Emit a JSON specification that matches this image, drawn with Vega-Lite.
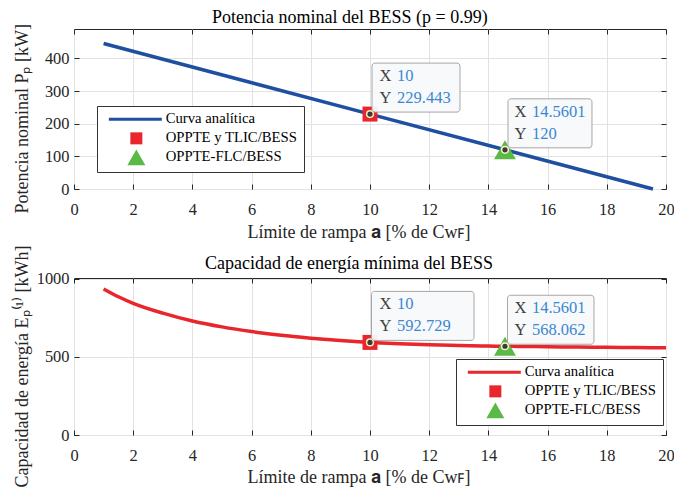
{
  "$schema": "https://vega.github.io/schema/vega-lite/v6.json",
  "background": "white",
  "padding": {"left": 12, "top": 8, "right": 5, "bottom": 0},
  "bounds": "flush",
  "spacing": 89,
  "datasets": {
    "lineTop": [{"x": 1, "y": 445.44}, {"x": 10, "y": 229.443}, {"x": 14.5601, "y": 120}, {"x": 19.56, "y": 0}],
    "ptsTop": [
      {"x": 10, "y": 229.443, "serie": "OPPTE y TLIC/BESS", "xs": "10", "ys": "229.443"},
      {"x": 14.5601, "y": 120, "serie": "OPPTE-FLC/BESS", "xs": "14.5601", "ys": "120"}
    ],
    "curveBot": [
      {"x": 1, "y": 935}, {"x": 1.5, "y": 885}, {"x": 2, "y": 843}, {"x": 3, "y": 780}, {"x": 4, "y": 730},
      {"x": 5, "y": 692}, {"x": 6, "y": 662}, {"x": 7, "y": 638}, {"x": 8, "y": 620}, {"x": 9, "y": 605},
      {"x": 10, "y": 592.729}, {"x": 11, "y": 584}, {"x": 12, "y": 577.5}, {"x": 13, "y": 573}, {"x": 14, "y": 569.5},
      {"x": 14.5601, "y": 568.062}, {"x": 15, "y": 567}, {"x": 16, "y": 565}, {"x": 17, "y": 563}, {"x": 18, "y": 561},
      {"x": 19, "y": 559.5}, {"x": 20, "y": 558}
    ],
    "ptsBot": [
      {"x": 10, "y": 592.729, "serie": "OPPTE y TLIC/BESS", "xs": "10", "ys": "592.729"},
      {"x": 14.5601, "y": 568.062, "serie": "OPPTE-FLC/BESS", "xs": "14.5601", "ys": "568.062"}
    ]
  },
  "resolve": {
    "scale": {"color": "independent", "shape": "independent", "x": "independent", "y": "independent"},
    "legend": {"color": "independent", "shape": "independent"}
  },
  "config": {
    "font": "Liberation Serif",
    "view": {"stroke": "#262626", "strokeWidth": 1},
    "axis": {
      "labelFont": "Liberation Serif", "labelFontSize": 16.4, "labelColor": "#262626",
      "titleFont": "Liberation Serif", "titleFontSize": 18, "titleFontWeight": "normal", "titleColor": "#262626",
      "domain": false, "tickColor": "#262626", "tickSize": -5, "tickWidth": 1,
      "gridColor": "#e2e2e2", "gridOpacity": 1, "labelFlush": false, "labelOverlap": false, "format": "d"
    },
    "axisX": {"labelPadding": 30, "labelBaseline": "alphabetic"},
    "axisY": {"labelPadding": 10, "labelBaseline": "middle"},
    "title": {"font": "Liberation Serif", "fontSize": 18, "fontWeight": "normal", "color": "#000000", "frame": "group"},
    "legend": {
      "labelFont": "Liberation Serif", "labelFontSize": 14.7, "labelColor": "#000000",
      "strokeColor": "#333333", "fillColor": "#ffffff", "padding": 6, "rowPadding": 3,
      "symbolSize": 144, "labelOffset": 48, "symbolStrokeWidth": 0, "symbolOpacity": 1
    }
  },
  "vconcat": [
    {
      "width": 592,
      "height": 160,
      "title": {"text": "Potencia nominal del BESS (p = 0.99)", "anchor": "start", "dx": 138, "offset": -17, "baseline": "alphabetic", "frame": "group"},
      "resolve": {"axis": {"x": "independent", "y": "independent"}},
      "layer": [
        {
          "encoding": {
            "x": {
              "field": "x", "type": "quantitative",
              "scale": {"domain": [0, 20], "nice": false, "zero": false},
              "axis": {"title": "Límite de rampa 𝐚 [% de Cᴡꜰ]", "values": [0, 2, 4, 6, 8, 10, 12, 14, 16, 18, 20], "titleX": 173, "titleY": 48, "titleAlign": "left", "titleBaseline": "alphabetic"}
            },
            "y": {
              "field": "y", "type": "quantitative",
              "scale": {"domain": [0, 490], "nice": false},
              "axis": {"title": "Potencia nominal Pₚ [kW]", "values": [0, 100, 200, 300, 400], "titleX": -47, "titleY": 184, "titleAngle": 270, "titleAlign": "left", "titleBaseline": "alphabetic"}
            }
          },
          "layer": [
            {"data": {"name": "lineTop"}, "mark": {"type": "line", "color": "#1f4fa0", "strokeWidth": 3.5}},
            {
              "data": {"name": "ptsTop"},
              "transform": [{"filter": "datum.serie == 'OPPTE y TLIC/BESS'"}],
              "mark": {"type": "point", "shape": "square", "size": 225, "filled": true, "opacity": 1, "color": "#e8262b"}
            },
            {
              "data": {"name": "ptsTop"},
              "transform": [{"filter": "datum.serie == 'OPPTE-FLC/BESS'"}],
              "mark": {"type": "point", "shape": "triangle-up", "size": 480, "filled": true, "opacity": 1, "color": "#5ab947"}
            },
            {
              "data": {"name": "ptsTop"},
              "transform": [{"filter": "false"}],
              "mark": {"type": "point", "filled": true, "opacity": 1},
              "encoding": {
                "color": {
                  "field": "serie", "type": "nominal",
                  "scale": {"domain": ["Curva analítica", "OPPTE y TLIC/BESS", "OPPTE-FLC/BESS"], "range": ["#1f4fa0", "#e8262b", "#5ab947"]},
                  "legend": {"title": null, "orient": "none", "legendX": 23, "legendY": 77}
                },
                "shape": {
                  "field": "serie", "type": "nominal",
                  "scale": {"domain": ["Curva analítica", "OPPTE y TLIC/BESS", "OPPTE-FLC/BESS"], "range": ["M-0.25,-0.25H8.58V0.25H-0.25Z", "M3.333,-1H5.333V1H3.333Z", "M4.333,-1.3L5.833,1.3L2.833,1.3Z"]},
                  "legend": {"title": null, "orient": "none", "legendX": 23, "legendY": 77}
                }
              }
            },
            {
              "data": {"name": "ptsTop"},
              "mark": {"type": "point", "shape": "circle", "size": 45, "filled": true, "fill": "#3a3a3a", "stroke": "#f7efc6", "strokeWidth": 1.5, "opacity": 1}
            },
            {
              "data": {"name": "ptsTop"},
              "transform": [{"filter": "datum.serie == 'OPPTE y TLIC/BESS'"}],
              "mark": {"type": "rect", "fill": "#f8f9fb", "fillOpacity": 0.95, "stroke": "#a6a6a6", "strokeWidth": 1, "cornerRadius": 3, "xOffset": 2, "x2Offset": 90, "yOffset": -51, "y2Offset": -2},
              "encoding": {"x2": {"field": "x"}, "y2": {"field": "y"}}
            },
            {
              "data": {"name": "ptsTop"},
              "transform": [{"filter": "datum.serie == 'OPPTE-FLC/BESS'"}],
              "mark": {"type": "rect", "fill": "#f8f9fb", "fillOpacity": 0.95, "stroke": "#a6a6a6", "strokeWidth": 1, "cornerRadius": 3, "xOffset": 3, "x2Offset": 87, "yOffset": -51, "y2Offset": -2},
              "encoding": {"x2": {"field": "x"}, "y2": {"field": "y"}}
            },
            {"data": {"name": "ptsTop"}, "mark": {"type": "text", "text": "X", "align": "left", "baseline": "middle", "dx": 9.5, "dy": -38, "fontSize": 16.5, "font": "Liberation Serif", "color": "#404040"}},
            {"data": {"name": "ptsTop"}, "mark": {"type": "text", "text": "Y", "align": "left", "baseline": "middle", "dx": 9.5, "dy": -16, "fontSize": 16.5, "font": "Liberation Serif", "color": "#404040"}},
            {"data": {"name": "ptsTop"}, "mark": {"type": "text", "align": "left", "baseline": "middle", "dx": 27, "dy": -38, "fontSize": 16.5, "font": "Liberation Serif", "color": "#3a87d2"}, "encoding": {"text": {"field": "xs"}}},
            {"data": {"name": "ptsTop"}, "mark": {"type": "text", "align": "left", "baseline": "middle", "dx": 27, "dy": -16, "fontSize": 16.5, "font": "Liberation Serif", "color": "#3a87d2"}, "encoding": {"text": {"field": "ys"}}}
          ]
        },
        {
          "data": {"name": "ptsTop"},
          "transform": [{"filter": "false"}],
          "mark": {"type": "point"},
          "encoding": {
            "x": {"field": "x", "type": "quantitative", "scale": {"domain": [0, 20], "nice": false, "zero": false},
              "axis": {"orient": "top", "labels": false, "title": null, "grid": false, "values": [0, 2, 4, 6, 8, 10, 12, 14, 16, 18, 20]}},
            "y": {"field": "y", "type": "quantitative", "scale": {"domain": [0, 490], "nice": false},
              "axis": {"orient": "right", "labels": false, "title": null, "grid": false, "values": [0, 100, 200, 300, 400]}}
          }
        }
      ]
    },
    {
      "width": 592,
      "height": 157,
      "title": {"text": "Capacidad de energía mínima del BESS", "anchor": "start", "dx": 131, "offset": -42, "baseline": "alphabetic", "frame": "group"},
      "resolve": {"axis": {"x": "independent", "y": "independent"}},
      "layer": [
        {
          "encoding": {
            "x": {
              "field": "x", "type": "quantitative",
              "scale": {"domain": [0, 20], "nice": false, "zero": false},
              "axis": {"title": "Límite de rampa 𝐚 [% de Cᴡꜰ]", "values": [0, 2, 4, 6, 8, 10, 12, 14, 16, 18, 20], "titleX": 173, "titleY": 47, "titleAlign": "left", "titleBaseline": "alphabetic"}
            },
            "y": {
              "field": "y", "type": "quantitative",
              "scale": {"domain": [0, 1005], "nice": false},
              "axis": {"title": "Capacidad de energía Eₚ⁽¹⁾ [kWh]", "values": [0, 500, 1000], "titleX": -47, "titleY": 209, "titleAngle": 270, "titleAlign": "left", "titleBaseline": "alphabetic"}
            }
          },
          "layer": [
            {"data": {"name": "curveBot"}, "mark": {"type": "line", "color": "#e8262b", "strokeWidth": 3.5, "interpolate": "monotone"}},
            {
              "data": {"name": "ptsBot"},
              "transform": [{"filter": "datum.serie == 'OPPTE y TLIC/BESS'"}],
              "mark": {"type": "point", "shape": "square", "size": 225, "filled": true, "opacity": 1, "color": "#e8262b"}
            },
            {
              "data": {"name": "ptsBot"},
              "transform": [{"filter": "datum.serie == 'OPPTE-FLC/BESS'"}],
              "mark": {"type": "point", "shape": "triangle-up", "size": 480, "filled": true, "opacity": 1, "color": "#5ab947"}
            },
            {
              "data": {"name": "ptsBot"},
              "transform": [{"filter": "false"}],
              "mark": {"type": "point", "filled": true, "opacity": 1},
              "encoding": {
                "color": {
                  "field": "serie", "type": "nominal",
                  "scale": {"domain": ["Curva analítica", "OPPTE y TLIC/BESS", "OPPTE-FLC/BESS"], "range": ["#e8262b", "#e8262b", "#5ab947"]},
                  "legend": {"title": null, "orient": "none", "legendX": 382, "legendY": 81}
                },
                "shape": {
                  "field": "serie", "type": "nominal",
                  "scale": {"domain": ["Curva analítica", "OPPTE y TLIC/BESS", "OPPTE-FLC/BESS"], "range": ["M-0.25,-0.25H8.58V0.25H-0.25Z", "M3.333,-1H5.333V1H3.333Z", "M4.333,-1.3L5.833,1.3L2.833,1.3Z"]},
                  "legend": {"title": null, "orient": "none", "legendX": 382, "legendY": 81}
                }
              }
            },
            {
              "data": {"name": "ptsBot"},
              "mark": {"type": "point", "shape": "circle", "size": 45, "filled": true, "fill": "#3a3a3a", "stroke": "#f7efc6", "strokeWidth": 1.5, "opacity": 1}
            },
            {
              "data": {"name": "ptsBot"},
              "transform": [{"filter": "datum.serie == 'OPPTE y TLIC/BESS'"}],
              "mark": {"type": "rect", "fill": "#f8f9fb", "fillOpacity": 0.95, "stroke": "#a6a6a6", "strokeWidth": 1, "cornerRadius": 3, "xOffset": 1.5, "x2Offset": 104, "yOffset": -51, "y2Offset": -2},
              "encoding": {"x2": {"field": "x"}, "y2": {"field": "y"}}
            },
            {
              "data": {"name": "ptsBot"},
              "transform": [{"filter": "datum.serie == 'OPPTE-FLC/BESS'"}],
              "mark": {"type": "rect", "fill": "#f8f9fb", "fillOpacity": 0.95, "stroke": "#a6a6a6", "strokeWidth": 1, "cornerRadius": 3, "xOffset": 2.5, "x2Offset": 89, "yOffset": -51, "y2Offset": -2},
              "encoding": {"x2": {"field": "x"}, "y2": {"field": "y"}}
            },
            {"data": {"name": "ptsBot"}, "mark": {"type": "text", "text": "X", "align": "left", "baseline": "middle", "dx": 9.5, "dy": -38, "fontSize": 16.5, "font": "Liberation Serif", "color": "#404040"}},
            {"data": {"name": "ptsBot"}, "mark": {"type": "text", "text": "Y", "align": "left", "baseline": "middle", "dx": 9.5, "dy": -16, "fontSize": 16.5, "font": "Liberation Serif", "color": "#404040"}},
            {"data": {"name": "ptsBot"}, "mark": {"type": "text", "align": "left", "baseline": "middle", "dx": 27, "dy": -38, "fontSize": 16.5, "font": "Liberation Serif", "color": "#3a87d2"}, "encoding": {"text": {"field": "xs"}}},
            {"data": {"name": "ptsBot"}, "mark": {"type": "text", "align": "left", "baseline": "middle", "dx": 27, "dy": -16, "fontSize": 16.5, "font": "Liberation Serif", "color": "#3a87d2"}, "encoding": {"text": {"field": "ys"}}}
          ]
        },
        {
          "data": {"name": "ptsBot"},
          "transform": [{"filter": "false"}],
          "mark": {"type": "point"},
          "encoding": {
            "x": {"field": "x", "type": "quantitative", "scale": {"domain": [0, 20], "nice": false, "zero": false},
              "axis": {"orient": "top", "labels": false, "title": null, "grid": false, "values": [0, 2, 4, 6, 8, 10, 12, 14, 16, 18, 20]}},
            "y": {"field": "y", "type": "quantitative", "scale": {"domain": [0, 1005], "nice": false},
              "axis": {"orient": "right", "labels": false, "title": null, "grid": false, "values": [0, 500, 1000]}}
          }
        }
      ]
    }
  ]
}
